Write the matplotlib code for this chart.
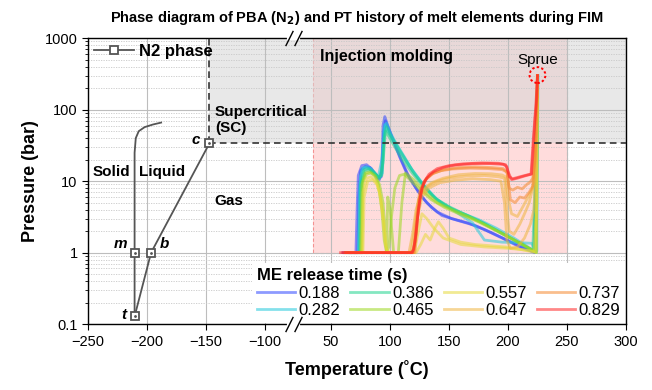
import numpy as np
import matplotlib
matplotlib.use("Agg")
import matplotlib.pyplot as plt
from matplotlib.lines import Line2D
from matplotlib.ticker import FixedLocator, FuncFormatter, LogLocator, NullFormatter

plt.rcParams['font.family'] = ['Liberation Sans', 'DejaVu Sans']

# N2 phase diagram (triple point t, melting m, boiling b, critical c)
melt_T = [-210.5, -210.5, -210.5, -209.5, -207, -202, -195, -188]
melt_P = [0.128, 1, 25, 40, 50, 57, 62, 66]
boil_T = [-210.5, -196.5, -147]
boil_P = [0.128, 1, 33.9]
pts_T = [-210.5, -210.5, -196.5, -147]
pts_P = [0.128, 1, 1, 33.9]
crit_T = -147
crit_P = 33.9

# PT history of melt elements, two or three traces per release time
release_times = ['0.188', '0.282', '0.386', '0.465', '0.557', '0.647', '0.737', '0.829']
colors = ['#3048ff', '#22c8dc', '#1fd48e', '#9cd81e', '#e6da3a', '#efb540', '#f58a30', '#ff2626']

T_0188 = [[60, 71, 72, 73, 76, 80, 84, 88, 91, 93, 94, 95.5, 98, 102, 108, 114, 120, 127, 135, 144, 158, 172, 186, 201, 214, 223, 224.5, 225],
          [62, 72.5, 73.5, 75, 79, 83, 87, 90, 92.5, 94.5, 96, 99, 104, 110, 116, 123, 131, 140, 152, 166, 180, 195, 210, 222, 224, 225]]
P_0188 = [[1, 1, 4, 12, 16.5, 17, 15, 12, 10.5, 14, 60, 80, 60, 40, 22, 13, 9, 6, 4.3, 3.3, 2.8, 2.4, 1.9, 1.45, 1.15, 1.0, 20, 300],
          [1, 1, 6, 14, 16, 15.5, 13, 11, 11.5, 45, 70, 52, 33, 19, 11.5, 7.5, 5, 3.7, 3.0, 2.6, 2.1, 1.6, 1.2, 1.02, 15, 300]]

T_0282 = [[63, 73, 74, 76, 80, 84, 88, 91, 93.5, 95, 97, 100, 105, 112, 119, 127, 136, 146, 160, 175, 190, 205, 217, 224, 225, 225.5],
          [64, 73.5, 75, 78, 82, 86, 90, 93, 95.5, 98, 103, 110, 118, 128, 140, 155, 170, 180, 195, 210, 220, 224.5, 225]]
P_0282 = [[1, 1, 8, 15, 16, 15, 12.5, 11, 13, 55, 65, 48, 34, 22, 14, 9.5, 6.3, 4.6, 3.6, 2.9, 2.2, 1.6, 1.2, 1.0, 30, 300],
          [1, 1, 12, 15.5, 15, 13, 11.5, 20, 62, 50, 36, 24, 15, 9, 5.5, 3.8, 2.6, 1.5, 1.4, 1.38, 1.35, 1.05, 300]]

T_0386 = [[64, 74, 75, 78, 82, 86, 90, 93, 95, 97, 100, 106, 113, 121, 130, 140, 152, 166, 181, 197, 212, 222, 224.8, 225.2],
          [65, 75, 76, 79, 83, 87, 91, 94, 96, 99, 104, 111, 119, 128, 138, 150, 164, 179, 195, 210, 221, 224.6, 225]]
P_0386 = [[1, 1, 9, 14.5, 15, 13.5, 11.5, 12, 40, 58, 45, 31, 20, 12.5, 8, 5.4, 4.1, 3.3, 2.5, 1.8, 1.3, 1.05, 40, 300],
          [1, 1, 10, 14, 14.2, 12.8, 11, 18, 50, 42, 30, 19.5, 12.8, 8.5, 5.8, 4.4, 3.4, 2.6, 1.85, 1.35, 1.07, 60, 300]]

T_0465 = [[66, 75, 76, 79, 83, 87, 90, 93, 95, 97, 99, 101, 104, 108, 112, 118, 126, 135, 146, 160, 175, 191, 207, 219, 224, 225],
          [67, 76, 77, 80, 84, 88, 91, 94, 96, 97, 98, 100, 103, 107, 110, 113, 120, 129, 140, 154, 170, 186, 202, 216, 223.5, 224.8]]
P_0465 = [[1, 1, 9, 13, 13.5, 12, 9, 4, 1.5, 1, 1.2, 3, 8, 12, 12.5, 10, 7.5, 5.5, 4.3, 3.4, 2.7, 2, 1.45, 1.12, 1.0, 300],
          [1, 1, 10, 12.5, 13, 11.5, 9, 5, 2, 1, 6, 4, 1, 1, 5, 13, 10.5, 7.2, 5, 3.9, 3.0, 2.2, 1.6, 1.2, 1.02, 300]]

T_0557 = [[68, 76, 77, 80, 84, 88, 91, 94, 96, 98, 110, 122, 126, 130, 134, 138, 141, 145, 150, 160, 172, 185, 198, 212, 222, 224.5, 225],
          [70, 77, 78, 81, 85, 89, 92, 95, 97, 100, 115, 121, 124, 127, 131, 137, 145, 160, 180, 200, 212, 220, 224, 225]]
P_0557 = [[1, 1, 7, 11, 11.5, 10, 7, 3, 1.3, 1, 1, 1, 1.3, 1.8, 1.5, 2.2, 2.7, 2.2, 1.6, 1.4, 1.3, 1.25, 1.2, 1.1, 1.02, 5, 300],
          [1, 1, 6, 10, 10.5, 9, 6, 2.5, 1.1, 1, 1, 1.1, 2, 3.5, 3, 2.2, 1.6, 1.3, 1.2, 1.15, 1.1, 1.05, 1.0, 300]]

T_0647 = [[62, 100, 116, 119, 122, 126, 132, 140, 150, 165, 180, 192, 197, 199, 201, 205, 210, 214, 218, 221, 223, 224.5, 225],
          [63, 105, 118, 121, 124, 128, 135, 145, 158, 172, 186, 195, 198, 200, 203, 208, 213, 217, 220, 222.5, 224.5, 225],
          [64, 110, 120, 123, 127, 133, 142, 155, 170, 185, 194, 197, 199, 202, 208, 214, 219, 222, 224, 225]]
P_0647 = [[1, 1, 1, 1.8, 4, 6.5, 8.5, 10, 11, 11.8, 12, 11.5, 11, 4, 2, 1.8, 2.5, 3.5, 5, 8, 15, 80, 300],
          [1, 1, 1, 2.5, 5.5, 7.5, 9.5, 11, 12.3, 12.8, 12.7, 12.2, 11.5, 6, 3.5, 3.2, 4.5, 6, 7.5, 10, 90, 300],
          [1, 1, 1, 3, 6, 8, 9.5, 10.3, 10.8, 10.5, 10, 5, 1.5, 1.15, 1.2, 1.6, 2.5, 4, 20, 300]]

T_0737 = [[62, 110, 120, 122.5, 125, 129, 135, 143, 153, 168, 183, 195, 199, 201, 204, 208, 212, 216, 219, 221, 223, 224.5, 225],
          [63, 112, 121, 123.5, 126, 130, 137, 146, 158, 172, 186, 196, 199.5, 202, 206, 210, 214, 218, 221, 223.5, 225]]
P_0737 = [[1, 1, 1, 3, 7, 10, 12.5, 14, 14.8, 15.2, 15, 14.5, 13.5, 8, 7.5, 8.2, 7.8, 9, 9.8, 11, 20, 90, 300],
          [1, 1, 1, 3.5, 7.5, 10.5, 13, 14.5, 15.5, 15.8, 15.5, 15, 13, 5.5, 5, 6, 5.8, 7, 8.5, 40, 300]]

T_0829 = [[58, 100, 118, 120, 122, 124, 127, 131, 137, 145, 155, 170, 185, 196, 199, 201, 204, 210, 216, 220, 221.5, 223, 224.5, 225],
          [60, 105, 119, 121, 123, 125.5, 128.5, 133, 140, 150, 162, 178, 192, 198, 200.5, 203, 208, 214, 219.5, 221.5, 223.5, 225]]
P_0829 = [[1, 1, 1, 1.1, 1.8, 4, 8, 11, 13.5, 15.5, 16.8, 17.5, 17.6, 17.2, 16, 11.5, 10.8, 11.5, 12.2, 12.6, 30, 75, 150, 300],
          [1, 1, 1, 1.4, 2.8, 6, 9.5, 12.5, 15, 16.5, 17.5, 18, 17.8, 17, 13, 10.5, 11, 11.8, 12.5, 40, 110, 300]]

all_T = [T_0188, T_0282, T_0386, T_0465, T_0557, T_0647, T_0737, T_0829]
all_P = [P_0188, P_0282, P_0386, P_0465, P_0557, P_0647, P_0737, P_0829]

xticks = [-250, -200, -150, -100, 50, 100, 150, 200, 250, 300]
yticks = [0.1, 1, 10, 100, 1000]

# broken x axis: squeeze -76..18 to almost nothing
B0, B1, EPS = -76.0, 18.0, 0.002
GAP = B1 - B0


def fwd(x):
    x = np.asarray(x, dtype=float)
    return np.where(x <= B0, x, np.where(x >= B1, x - GAP * (1 - EPS), B0 + (x - B0) * EPS))


def inv(y):
    y = np.asarray(y, dtype=float)
    return np.where(y <= B0, y, np.where(y >= B0 + GAP * EPS, y + GAP * (1 - EPS), B0 + (y - B0) / EPS))


fig = plt.figure(figsize=(6.52, 3.9), dpi=100)
ax = fig.add_axes([0.135, 0.169, 0.825, 0.733])
ax.set_xscale('function', functions=(fwd, inv))
ax.set_yscale('log')
ax.set_xlim(-250, 300)
ax.set_ylim(0.1, 1000)

# regions
ax.fill_between([35, 250], 1, 1000, facecolor='#ffdcdc', edgecolor='none', zorder=0.5)
ax.plot([35, 35, 250, 250], [1000, 1, 1, 1000], color='#f08080', ls=(0, (3, 2)), lw=0.8, alpha=0.8, zorder=0.6)
ax.fill_between([crit_T, 300], crit_P, 1000, facecolor='#d6d6d6', alpha=0.55, edgecolor='none', zorder=0.7)
ax.plot([crit_T, 300], [crit_P, crit_P], color='#333333', ls=(0, (4, 2.5)), lw=1.2, zorder=3)
ax.plot([crit_T, crit_T], [crit_P, 1000], color='#333333', ls=(0, (4, 2.5)), lw=1.2, zorder=3)

# grid
ax.grid(True, which='major', color='#bdbdbd', lw=0.8)
ax.grid(True, which='minor', axis='y', color='#c8c8c8', lw=0.6, ls=(0, (1.5, 1.5)))

# melt element traces
for lab, col, Ts, Ps in zip(release_times, colors, all_T, all_P):
    for i, (tt, pp) in enumerate(zip(Ts, Ps)):
        ax.plot(tt, pp, color=col, lw=2.0, alpha=0.55, zorder=2,
                label=lab if i == 0 else None)

# phase diagram
ax.plot(melt_T, melt_P, color='#555555', lw=1.3, zorder=4)
ax.plot(boil_T, boil_P, color='#555555', lw=1.3, zorder=4)
ax.plot(pts_T, pts_P, ls='none', marker='s', ms=6, mfc='white', mec='#555555', mew=1.3, zorder=5)
ax.plot(pts_T, pts_P, ls='none', marker='.', ms=2, color='#555555', zorder=6)

# annotations
bi = dict(fontsize=11, fontweight='bold', fontstyle='italic')
ax.text(-159, 38, 'c', ha='center', va='center', **bi)
ax.text(-217, 1.3, 'm', ha='right', va='center', **bi)
ax.text(-189, 1.3, 'b', ha='left', va='center', **bi)
ax.text(-217, 0.135, 't', ha='right', va='center', **bi)
ax.text(-246.5, 13.5, 'Solid', fontsize=11, fontweight='bold', va='center')
ax.text(-207, 13.5, 'Liquid', fontsize=11, fontweight='bold', va='center')
ax.text(-143, 5.3, 'Gas', fontsize=11, fontweight='bold', va='center')
ax.text(-142.5, 72, 'Supercritical\n(SC)', fontsize=11, fontweight='bold', va='center', linespacing=1.25)
ax.text(40.5, 560, 'Injection molding', fontsize=11.5, fontweight='bold', va='center')
ax.text(225.5, 500, 'Sprue', fontsize=11, ha='center', va='center')
ax.plot([225], [305], ls='none', marker='o', ms=11, mfc='none', mec='none', zorder=7)
ax.scatter([225], [305], s=130, facecolors='none', edgecolors='red',
           linestyles=(0, (1.2, 1.2)), linewidths=1.4, zorder=7)

# break marks
trans = ax.get_xaxis_transform()
for yb in (0, 1):
    ax.plot([-79.5, 21.5], [yb, yb], color='white', lw=3, transform=trans, clip_on=False, zorder=8)
    ax.plot([-79.5, 21.5], [yb, yb], ls='none', marker=[(-0.5, -1), (0.5, 1)], ms=11, mew=1.0,
            color='black', transform=trans, clip_on=False, zorder=9)

# axes formatting
ax.xaxis.set_major_locator(FixedLocator(xticks))
ax.yaxis.set_major_locator(FixedLocator(yticks))
ax.yaxis.set_minor_locator(LogLocator(base=10, subs=np.arange(2, 10)))
ax.yaxis.set_minor_formatter(NullFormatter())
ax.yaxis.set_major_formatter(FuncFormatter(lambda v, _: f'{v:g}'))
ax.tick_params(axis='both', which='major', labelsize=10.5, direction='out', length=4)
ax.tick_params(axis='y', which='minor', direction='out', length=2)
for sp in ax.spines.values():
    sp.set_linewidth(1.0)

ax.set_xlabel('Temperature (˚C)', fontsize=13, fontweight='bold', labelpad=8)
ax.set_ylabel('Pressure (bar)', fontsize=13, fontweight='bold', labelpad=4)
ax.set_title('Phase diagram of PBA (N$_\\mathbf{2}$) and PT history of melt elements during FIM',
             fontsize=10.5, fontweight='bold', pad=12)

# legends
h_n2 = Line2D([], [], color='#555555', lw=1.3, marker='s', ms=6, mfc='white', mec='#555555', mew=1.3)
leg1 = ax.legend([h_n2], ['N2 phase'], loc='upper left', frameon=False,
                 prop=dict(size=12, weight='bold'), handlelength=2.4, handletextpad=0.3,
                 borderaxespad=0.15, borderpad=0.2)
ax.add_artist(leg1)

ax.legend(loc='lower right', ncol=4, fontsize=12, title='ME release time (s)',
          title_fontproperties=dict(size=12, weight='bold'), alignment='left',
          frameon=True, facecolor='white', edgecolor='none', framealpha=1, fancybox=False,
          handlelength=2.3, handletextpad=0.2, columnspacing=0.6, labelspacing=0.15,
          borderpad=0.3, borderaxespad=0.05)

fig.savefig('out.png', dpi=100)
